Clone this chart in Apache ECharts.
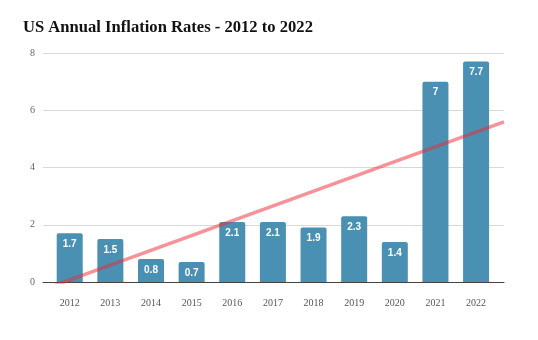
<!DOCTYPE html>
<html>
<head>
<meta charset="utf-8">
<script src="https://cdn.jsdelivr.net/npm/echarts@6/dist/echarts.min.js"></script>
<style>
  html, body { margin: 0; padding: 0; background: #fff; }
  #chart { width: 538px; height: 340px; }
</style>
</head>
<body>
<div id="chart"></div>
<script>
// Annual US inflation rate (%) by year
const years = ['2012', '2013', '2014', '2015', '2016', '2017', '2018', '2019', '2020', '2021', '2022'];
const inflation = [1.7, 1.5, 0.8, 0.7, 2.1, 2.1, 1.9, 2.3, 1.4, 7, 7.7];
const yTicks = [0, 2, 4, 6, 8];

// Least-squares linear trend over the year index
function linearFit(values) {
  const n = values.length;
  const mx = (n - 1) / 2;
  const my = values.reduce((a, b) => a + b, 0) / n;
  let sxy = 0, sxx = 0;
  values.forEach((v, i) => { sxy += (i - mx) * (v - my); sxx += (i - mx) * (i - mx); });
  const slope = sxy / sxx;
  return { slope, intercept: my - slope * mx };
}
const fit = linearFit(inflation);

// Layout: outer plot frame (gridlines) and inner band area (bars)
const outerLeft = 43, outerRight = 504, innerLeft = 49.4, innerRight = 496.4;
const plotTop = 53, plotBottom = 58;
const band = (innerRight - innerLeft) / years.length;
const firstCenter = innerLeft + band / 2;
// Value-axis extent in index units that lines up with the outer frame
const trendMin = (outerLeft - firstCenter) / band;
const trendMax = (outerRight - firstCenter) / band;
const trendData = [trendMin, trendMax].map(x => [x, fit.intercept + fit.slope * x]);

const chart = echarts.init(document.getElementById('chart'), null, { renderer: 'canvas' });
const labelFont = 'Liberation Serif';

chart.setOption({
  animation: false,
  title: {
    text: 'US Annual Inflation Rates - 2012 to 2022',
    left: 18, top: 14,
    textStyle: { fontFamily: labelFont, fontWeight: 'bold', fontSize: 16.6, color: '#111' }
  },
  grid: [
    { left: outerLeft, right: 538 - outerRight, top: plotTop, bottom: plotBottom },
    { left: innerLeft, right: 538 - innerRight, top: plotTop, bottom: plotBottom }
  ],
  xAxis: [
    {
      type: 'value', gridIndex: 0, min: trendMin, max: trendMax,
      axisLine: { show: true, onZero: false, lineStyle: { color: '#444', width: 1 } },
      axisTick: { show: false }, axisLabel: { show: false }, splitLine: { show: false }
    },
    {
      type: 'category', gridIndex: 1, data: years,
      axisLine: { show: false }, axisTick: { show: false },
      axisLabel: { fontFamily: labelFont, fontSize: 10, color: '#555', margin: 16 }
    }
  ],
  yAxis: [
    {
      type: 'value', gridIndex: 0, min: 0, max: 8, interval: 2,
      axisLine: { show: false }, axisTick: { show: false },
      axisLabel: { fontFamily: labelFont, fontSize: 10, color: '#666', margin: 8,
        formatter: v => yTicks.includes(v) ? String(v) : '' },
      splitLine: { lineStyle: { color: '#d9d9d9', width: 1 } }
    },
    {
      type: 'value', gridIndex: 1, min: 0, max: 8, interval: 2,
      axisLine: { show: false }, axisTick: { show: false },
      axisLabel: { show: false }, splitLine: { show: false }
    }
  ],
  series: [
    {
      type: 'bar', xAxisIndex: 1, yAxisIndex: 1, data: inflation,
      barWidth: '64%',
      itemStyle: { color: '#4a90b2', borderRadius: [2, 2, 0, 0] },
      label: {
        show: true, position: 'insideTop', distance: 6,
        color: '#fff', fontFamily: 'Liberation Sans', fontWeight: 'bold', fontSize: 10
      },
      z: 2
    },
    {
      type: 'line', xAxisIndex: 0, yAxisIndex: 0, data: trendData,
      symbol: 'none', clip: true,
      lineStyle: { color: 'rgba(240, 40, 50, 0.5)', width: 3.5 },
      z: 3
    }
  ]
});
</script>
</body>
</html>
